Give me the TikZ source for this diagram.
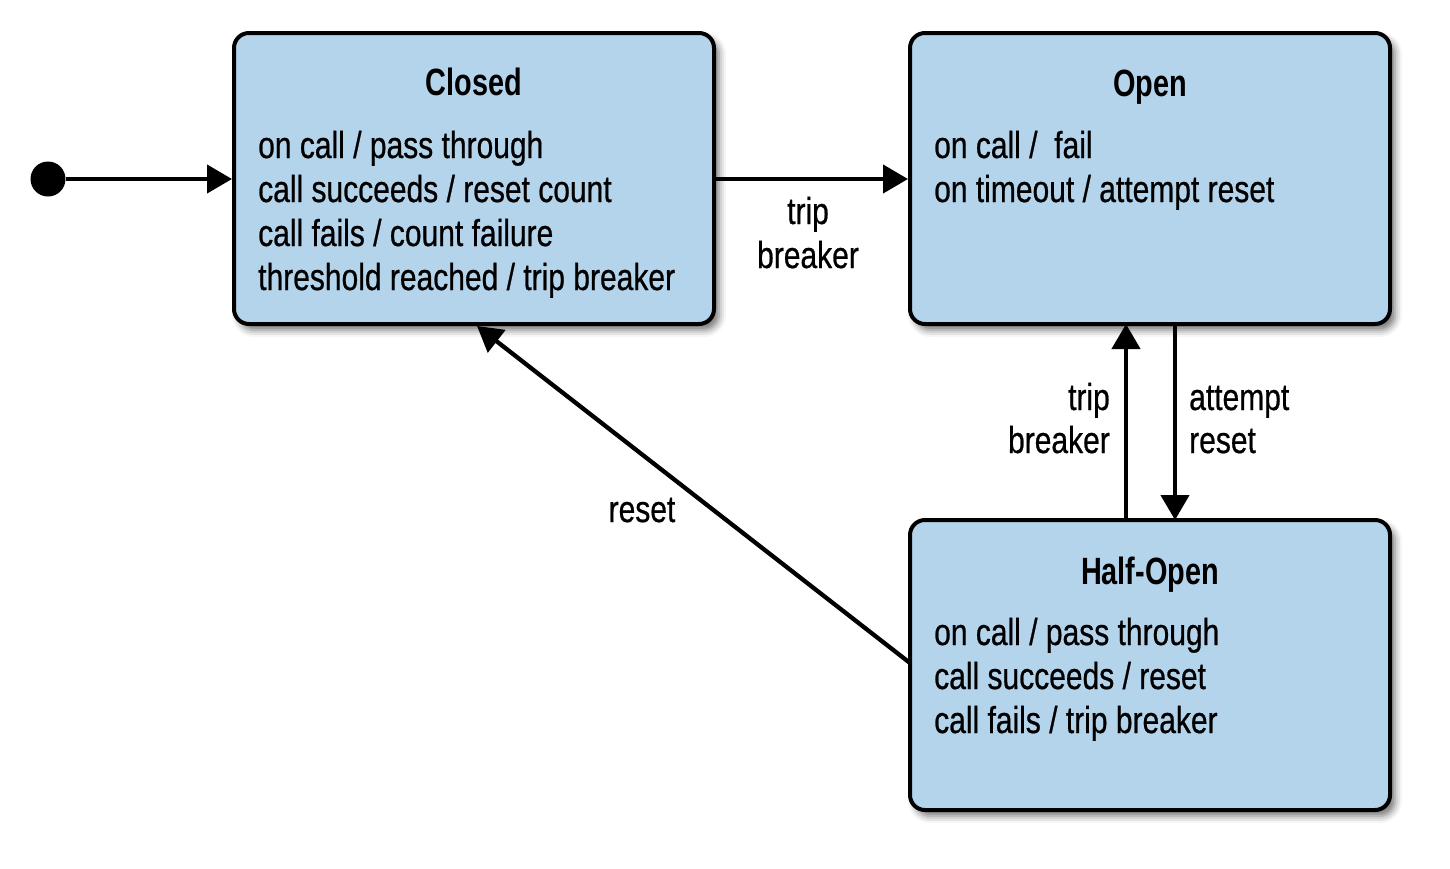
\documentclass[tikz,border=0pt]{standalone}
\usepackage{fontspec}
\setmainfont{Liberation Sans}[FakeStretch=0.8,FakeBold=0.6]
\newfontfamily\titlefont{Liberation Sans}[FakeStretch=0.76]
\usetikzlibrary{arrows.meta,shadows.blur}
\definecolor{boxfill}{RGB}{180,212,235}
\tikzset{
  statebox/.style={draw=black, line width=4pt, fill=boxfill, rounded corners=15pt,
    minimum width=480pt, minimum height=291pt, inner sep=0pt,
    blur shadow={shadow xshift=5pt, shadow yshift=-6pt, shadow blur radius=7pt, shadow opacity=55}},
  ttl/.style={font=\titlefont\bfseries\fontsize{38}{44}\selectfont, inner sep=0pt, anchor=base},
  txt/.style={font=\fontsize{37.5}{44}\selectfont, inner sep=0pt, anchor=base west},
  lbl/.style={font=\fontsize{37.5}{44}\selectfont, inner sep=0pt},
  conn/.style={line width=4.3pt, -{Triangle[length=25pt,width=28pt]}}
}
\begin{document}
\begin{tikzpicture}[x=1pt,y=1pt]
\useasboundingbox (0,0) rectangle (1450,-868);
% boxes
\node[statebox] (closed) at (474,-178.5) {};
\node[statebox] (open) at (1150,-178.5) {};
\node[statebox, minimum height=290pt] (half) at (1150,-665) {};
% titles
\node[ttl] (tclosed) at (474,-95) {Closed};
\node[ttl] (topen) at (1150,-96) {Open};
\node[ttl] (thalf) at (1150,-584) {Half-Open};
% closed body
\node[txt] (c1) at (258,-158) {on call / pass through};
\node[txt] (c2) at (258,-202) {call succeeds / reset count};
\node[txt] (c3) at (258,-246) {call fails / count failure};
\node[txt] (c4) at (258,-290) {threshold reached / trip breaker};
% open body
\node[txt] (o1) at (934,-158) {on call /\ \ fail};
\node[txt] (o2) at (934,-202) {on timeout / attempt reset};
% half-open body
\node[txt] (h1) at (934,-645) {on call / pass through};
\node[txt] (h2) at (934,-689) {call succeeds / reset};
\node[txt] (h3) at (934,-733) {call fails / trip breaker};
% initial state
\node[circle, fill=black, minimum size=35pt, inner sep=0pt] (init) at (48,-179) {};
\coordinate (closedin) at (closed.west |- init);
\draw[conn] (init) -- (closedin);
% closed -> open
\coordinate (cout) at (closed.east |- init);
\coordinate (oin) at (open.west |- init);
\draw[conn] (cout) -- (oin);
\node[lbl, anchor=base] (l1a) at (808,-224) {trip};
\node[lbl, anchor=base] (l1b) at (808,-268) {breaker};
% open -> half
\coordinate (odown) at (1175,-324);
\coordinate (hin) at (1175,-520);
\draw[conn] (odown) -- (hin);
\node[lbl, anchor=base west] (l2a) at (1189,-410) {attempt};
\node[lbl, anchor=base west] (l2b) at (1189,-453) {reset};
% half -> open
\coordinate (hup) at (1126,-520);
\coordinate (oback) at (1126,-324);
\draw[conn] (hup) -- (oback);
\node[lbl, anchor=base east] (l3a) at (1110,-410) {trip};
\node[lbl, anchor=base east] (l3b) at (1110,-453) {breaker};
% half -> closed
\coordinate (hleft) at (910,-663);
\coordinate (cback) at (477,-326);
\draw[conn] (hleft) -- (cback);
\node[lbl, anchor=base] (l4) at (642,-522) {reset};
\end{tikzpicture}
\end{document}
